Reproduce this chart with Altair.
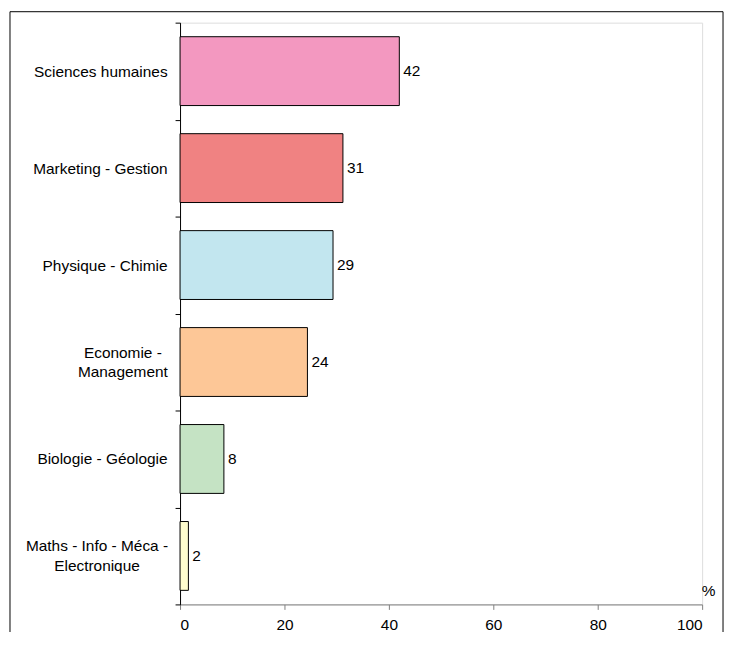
import altair as alt
import pandas as pd

categories = [
    "Sciences humaines",
    "Marketing - Gestion",
    "Physique - Chimie",
    "Economie -|Management",
    "Biologie - Géologie",
    "Maths - Info - Méca -|Electronique",
]
values = [42.0, 31.2, 29.3, 24.4, 8.4, 1.6]
colors = ["#F398C0", "#F08282", "#C2E6EF", "#FDC797", "#C5E3C4", "#FFFDCE"]
x_ticks = [0, 20, 40, 60, 80, 100]

df = pd.DataFrame({"cat": categories, "value": values})
FONT = "Liberation Sans"

base = alt.Chart(df)

y_scale = alt.Scale(paddingInner=0, paddingOuter=0)

is_multi = "indexof(datum.label, '|') >= 0"

y_enc = alt.Y(
    "cat:N",
    sort=categories,
    scale=y_scale,
    axis=alt.Axis(
        title=None,
        tickBand="extent",
        labelExpr="split(datum.label, '|')",
        labelAlign={"condition": {"test": is_multi, "value": "center"}, "value": "right"},
        labelBaseline="middle",
        labelOffset={"condition": {"test": is_multi, "value": -10}, "value": 0},
        labelPadding={
            "condition": [
                {"test": "indexof(datum.label, 'Economie') >= 0", "value": 53},
                {"test": "indexof(datum.label, 'Maths') >= 0", "value": 79},
            ],
            "value": 8,
        },
        labelLineHeight=20,
        labelFontSize=15.5,
        labelColor="black",
        labelFont=FONT,
        tickSize=5,
        tickColor="black",
        domainColor="black",
        labelLimit=300,
    ),
)

x_enc = alt.X(
    "value:Q",
    scale=alt.Scale(domain=[0, 100], nice=False),
    axis=alt.Axis(
        values=x_ticks,
        grid=False,
        title="%",
        titleFontWeight="normal",
        titleFontSize=15.5,
        titleFont=FONT,
        titleColor="black",
        titleX=531,
        titleY=-14,
        titleAlign="center",
        titleBaseline="middle",
        tickSize=5,
        tickColor="#808080",
        domainColor="#808080",
        labelFontSize=15.5,
        labelFont=FONT,
        labelColor="black",
        labelPadding=8,
    ),
)

bars = base.mark_bar(stroke="black", strokeWidth=1, height={"band": 0.71}).encode(
    x=x_enc,
    y=y_enc,
    color=alt.Color("cat:N", scale=alt.Scale(domain=categories, range=colors), legend=None),
)

labels = base.mark_text(align="left", baseline="middle", dx=4, fontSize=15.5, font=FONT, color="black").encode(
    x="value:Q",
    y=alt.Y("cat:N", sort=categories),
    text=alt.Text("value:Q", format=".0f"),
)

frame = alt.Chart(pd.DataFrame({"f": [0]})).mark_rect(
    fill="transparent", stroke="black", strokeWidth=1
).encode(
    x=alt.value(-171), x2=alt.value(546), y=alt.value(-11), y2=alt.value(700)
)

chart = (
    alt.layer(frame, bars, labels)
    .properties(
        width=525,
        height=585,
        autosize=alt.AutoSizeParams(type="none"),
        padding={"left": 173, "top": 13, "right": 25, "bottom": 26},
    )
    .configure_view(stroke=None)
    .configure(background="white")
)

chart.save("out.html", embed_options={"renderer": "svg", "actions": False})
